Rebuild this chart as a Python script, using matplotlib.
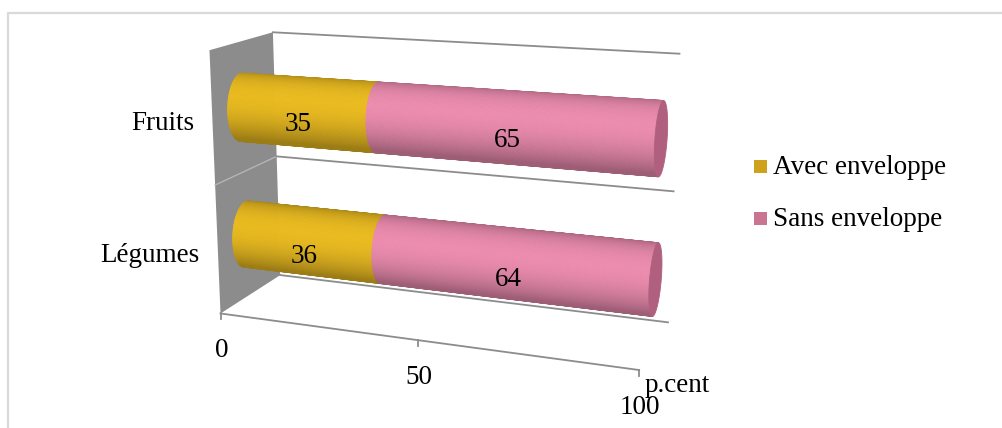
import numpy as np
import matplotlib.pyplot as plt
from matplotlib.collections import PolyCollection
from matplotlib.colors import to_rgb
from matplotlib.patches import Polygon, Rectangle

categories = ["Légumes", "Fruits"]
avec = [36, 35]
sans = [64, 65]
series_names = ["Avec enveloppe", "Sans enveloppe"]
value_ticks = [0, 50, 100]
axis_title = "p.cent"

# perspective camera: (value, category, depth, 1) -> homogeneous pixel coords
CAMERA = np.array([
    [3.494343e+00, -1.046766e+01, 8.435434e+01, 2.205124e+02],
    [1.648177e-01, -1.328222e+02, -1.426289e+01, 3.134843e+02],
    [-1.082732e-03, -2.365959e-02, 8.775643e-02, 1.000000e+00],
])
_, _, vt = np.linalg.svd(CAMERA)
EYE = vt[-1][:3] / vt[-1][3]

FONT = dict(family="Liberation Serif", fontsize=19.5)


def project(pts):
    pts = np.atleast_2d(np.asarray(pts, dtype=float))
    h = np.c_[pts, np.ones(len(pts))] @ CAMERA.T
    return h[:, :2] / h[:, 2:3]


def shade(c, k):
    return np.clip(np.array(to_rgb(c)) * k, 0, 1)


fig = plt.figure(figsize=(10.03, 4.28), dpi=100)
ax = fig.add_axes([0, 0, 1, 1])
ax.set_xlim(0, 1003)
ax.set_ylim(428, 0)
ax.axis("off")

# outer frame
ax.plot([8, 8, 1003], [428, 13, 13], color="#d9d9d9", lw=1.6, solid_capstyle="butt")

n_cat = len(categories)
vmax = value_ticks[-1]

# side wall with its category gridline
wall = project([[0, 0, 0], [0, 0, 1], [0, n_cat, 1], [0, n_cat, 0]])
ax.add_patch(Polygon(wall, closed=True, fc="#8c8c8c", ec="none", zorder=1))
for k in range(1, n_cat):
    p = project([[0, k, 0], [0, k, 1]])
    ax.plot(p[:, 0], p[:, 1], color="#b4b4b4", lw=1, zorder=2)

# back wall gridlines
for k in range(n_cat + 1):
    p = project([[0, k, 1], [vmax, k, 1]])
    ax.plot(p[:, 0], p[:, 1], color="#8c8c8c", lw=1.3, zorder=2)

# value axis
p = project([[0, 0, 0], [vmax, 0, 0]])
ax.plot(p[:, 0], p[:, 1], color="#8c8c8c", lw=1.3, zorder=2)
for v in value_ticks:
    tx, ty = project([[v, 0, 0]])[0]
    ax.plot([tx, tx], [ty, ty + 6], color="#8c8c8c", lw=1.3, zorder=2)
    ax.text(tx + 1, ty + 37, str(v), ha="center", va="center", **FONT)
tx, ty = project([[vmax, 0, 0]])[0]
ax.text(tx + 5, ty + 15, axis_title, ha="left", va="center", **FONT)

# cylinders
RY, RZ, ZC = 0.26, 0.22, 0.45
base_colors = ["#E5B71F", "#E789AB"]
cap_color = "#B0607E"
theta = np.linspace(-np.pi, np.pi, 121)
light = np.array([0.0, 0.55, -1.0])
light /= np.linalg.norm(light)


def ring_point(x, yc, a):
    return [x, yc + RY * np.cos(a), ZC - RZ * np.sin(a)]


for i, cat in enumerate(categories):
    yc = i + 0.5
    starts = [0, avec[i]]
    ends = [avec[i], avec[i] + sans[i]]
    polys, cols = [], []
    for s, (x0, x1) in enumerate(zip(starts, ends)):
        for a0, a1 in zip(theta[:-1], theta[1:]):
            am = 0.5 * (a0 + a1)
            pm = np.array(ring_point(0.5 * (x0 + x1), yc, am))
            grad = np.array([0, np.cos(am) / RY, -np.sin(am) / RZ])
            if grad @ (EYE - pm) <= 0:
                continue
            quad = [ring_point(x0, yc, a0), ring_point(x1, yc, a0),
                    ring_point(x1, yc, a1), ring_point(x0, yc, a1)]
            d = max(np.array([0, np.cos(am), -np.sin(am)]) @ light, 0)
            polys.append(project(quad))
            cols.append(shade(base_colors[s], 0.68 + 0.34 * d ** 1.5))
    ax.add_collection(PolyCollection(polys, facecolors=cols, edgecolors=cols,
                                     linewidths=0.6, zorder=3))
    xe = ends[-1]
    if EYE[0] > xe:
        cap = project([ring_point(xe, yc, a) for a in theta])
        ax.add_patch(Polygon(cap, closed=True, fc=cap_color, ec=cap_color, lw=0.6, zorder=4))
    for x0, v in zip(starts, [avec[i], sans[i]]):
        lx, ly = project([[x0 + v / 2, yc, ZC - RZ]])[0]
        ax.text(lx + 3, ly + 7, str(v), ha="center", va="center", zorder=5, **FONT)
    cx, cy = project([[0, yc, 0]])[0]
    ax.text(cx - 18, cy + 5, cat, ha="right", va="center", **FONT)

# legend
for k, (name, col) in enumerate(zip(series_names, ["#CFA21E", "#C97592"])):
    y = 166.5 + 52 * k
    ax.add_patch(Rectangle((754, y - 6.5), 13, 13, fc=col, ec="none"))
    ax.text(773, y + 1, name, ha="left", va="center", **FONT)

fig.savefig("out.png", dpi=100)
